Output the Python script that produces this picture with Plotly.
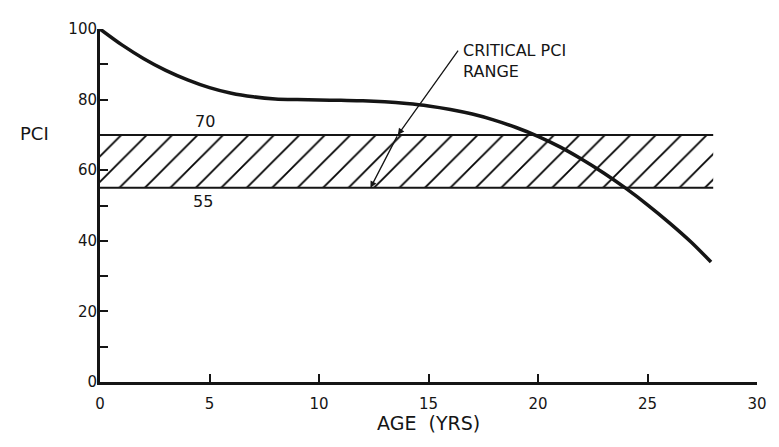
import plotly.graph_objects as go

# Data
age = [0, 1, 2, 3, 4, 5, 6, 7, 8, 9, 10, 11, 12, 13, 14, 15, 16, 17, 18,
       19, 20, 21, 22, 23, 24, 25, 26, 27, 27.9]
pci = [100, 95.5, 91.6, 88.3, 85.6, 83.4, 81.8, 80.8, 80.2, 80.0, 79.9,
       79.8, 79.7, 79.4, 78.9, 78.2, 77.2, 75.9, 74.2, 72.1, 69.6, 66.6,
       63.1, 59.2, 54.9, 50.2, 45.1, 39.6, 34.0]
band_x = [0, 28]
band_low = [55, 55]
band_high = [70, 70]
x_ticks = [0, 5, 10, 15, 20, 25, 30]
x_labels = ["0", "5", "10", "15", "20", "25", "30"]
y_ticks = [0, 10, 20, 30, 40, 50, 60, 70, 80, 90, 100]
y_labels = ["0", "", "20", "", "40", "", "60", "", "80", "", "100"]

INK = "#151515"
FONT = "DejaVu Sans"

fig = go.Figure()
fig.add_trace(go.Scatter(x=band_x, y=band_low, mode="lines",
                         line=dict(color=INK, width=2), showlegend=False,
                         hoverinfo="skip"))
fig.add_trace(go.Scatter(x=band_x, y=band_high, mode="lines",
                         line=dict(color=INK, width=2), fill="tonexty",
                         fillcolor="white",
                         fillpattern=dict(shape="/", size=18, solidity=0.1,
                                          fgcolor="#000000", fgopacity=1,
                                          bgcolor="white"),
                         showlegend=False, hoverinfo="skip"))
fig.add_trace(go.Scatter(x=age, y=pci, mode="lines",
                         line=dict(color=INK, width=3.5, shape="spline",
                                   smoothing=0.8),
                         showlegend=False, cliponaxis=False))

# labels
fig.add_annotation(x=4.8, y=73.8, text="70", showarrow=False, xanchor="center",
                   font=dict(size=16, color=INK, family=FONT))
fig.add_annotation(x=4.7, y=51.2, text="55", showarrow=False, xanchor="center",
                   font=dict(size=16, color=INK, family=FONT))
fig.add_annotation(x=16.5, y=97.3, text="CRITICAL PCI<br>RANGE",
                   showarrow=False, xanchor="left", yanchor="top", align="left",
                   font=dict(size=16, color=INK, family=FONT))
# leader arrows
fig.add_annotation(x=13.6, y=70, ax=16.4, ay=94.3, xref="x", yref="y",
                   axref="x", ayref="y", text="", showarrow=True,
                   arrowhead=2, arrowsize=1, arrowwidth=1.3, arrowcolor=INK)
fig.add_annotation(x=12.35, y=55, ax=13.6, ay=70, xref="x", yref="y",
                   axref="x", ayref="y", text="", showarrow=True,
                   arrowhead=2, arrowsize=1, arrowwidth=1.3, arrowcolor=INK)
fig.add_annotation(x=-0.10, y=70.5, xref="paper", yref="y", text="PCI",
                   showarrow=False, xanchor="center",
                   font=dict(size=18, color=INK, family=FONT))
fig.add_annotation(x=0.50, y=-0.153, xref="paper", yref="paper",
                   text="AGE  (YRS)", showarrow=False, xanchor="center",
                   font=dict(size=19, color=INK, family=FONT))

fig.update_xaxes(range=[0, 30], tickvals=x_ticks, ticktext=x_labels,
                 ticks="inside", ticklen=8, tickwidth=1.5, tickcolor=INK,
                 showline=True, linecolor=INK, linewidth=3, showgrid=False,
                 zeroline=False, tickfont=dict(size=15, color=INK, family=FONT),
                 ticklabelstandoff=6)
fig.update_yaxes(range=[0, 100], tickvals=y_ticks, ticktext=y_labels,
                 ticks="inside", ticklen=8, tickwidth=1.5, tickcolor=INK,
                 showline=True, linecolor=INK, linewidth=3, showgrid=False,
                 zeroline=False, tickfont=dict(size=15, color=INK, family=FONT),
                 ticklabelstandoff=-3)

fig.update_layout(width=771, height=439, plot_bgcolor="white",
                  paper_bgcolor="white",
                  margin=dict(l=92, r=20, t=15, b=65))

fig.write_html("out.html")
